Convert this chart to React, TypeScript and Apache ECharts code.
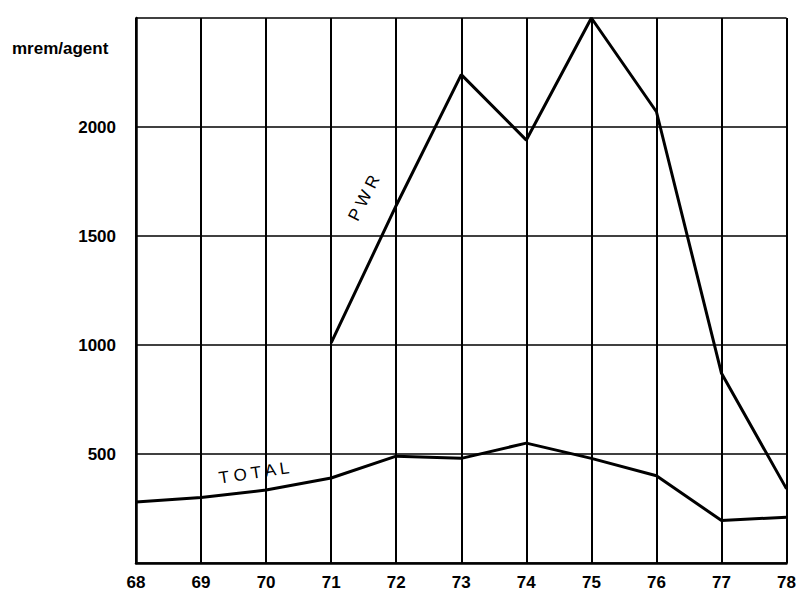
import React, { useEffect, useRef } from "react";
import * as echarts from "echarts";

const years = [68, 69, 70, 71, 72, 73, 74, 75, 76, 77, 78];
const totalValues = [280, 300, 335, 390, 490, 480, 550, 480, 400, 195, 210];
const pwrYears = [71, 72, 73, 74, 75, 76, 77, 78];
const pwrValues = [1010, 1640, 2240, 1940, 2500, 2070, 870, 340];
const yTickLabels = ["500", "1000", "1500", "2000"];

export default function App() {
  const ref = useRef<HTMLDivElement>(null);
  useEffect(() => {
    if (!ref.current) return;
    const chart = echarts.init(ref.current, undefined, { renderer: "svg" });
    const font = "Liberation Sans, Arial, sans-serif";
    chart.setOption({
      animation: false,
      backgroundColor: "#ffffff",
      grid: { left: 136, right: 9, top: 18, bottom: 37, show: false },
      xAxis: {
        type: "value",
        min: years[0],
        max: years[years.length - 1],
        interval: 1,
        axisLine: { show: true, onZero: false, lineStyle: { color: "#000", width: 2.5 } },
        axisTick: { show: false },
        splitLine: { show: true, lineStyle: { color: "#000", width: 2 } },
        axisLabel: {
          color: "#000",
          fontSize: 17,
          fontWeight: "bold",
          fontFamily: font,
          margin: 11,
          formatter: (v: number) => String(v),
        },
      },
      yAxis: {
        type: "value",
        min: 0,
        max: 2500,
        interval: 500,
        axisLine: { show: true, lineStyle: { color: "#000", width: 2.5 } },
        axisTick: { show: false },
        splitLine: { show: true, lineStyle: { color: "#000", width: 1.5 } },
        axisLabel: {
          color: "#000",
          fontSize: 17,
          fontWeight: "bold",
          fontFamily: font,
          margin: 20,
          formatter: (v: number) => (yTickLabels.includes(String(v)) ? String(v) : ""),
        },
      },
      graphic: [
        {
          type: "text",
          x: 12,
          y: 48,
          style: {
            text: "mrem/agent",
            fill: "#000",
            font: `bold 17px ${font}`,
            verticalAlign: "middle",
          },
        },
        {
          type: "text",
          x: 364,
          y: 198,
          rotation: 1.1,
          style: {
            text: "P W R",
            fill: "#000",
            font: `17px ${font}`,
            align: "center",
            verticalAlign: "middle",
          },
        },
        {
          type: "text",
          x: 254,
          y: 473,
          rotation: 0.15,
          style: {
            text: "T O T A L",
            fill: "#000",
            font: `17px ${font}`,
            align: "center",
            verticalAlign: "middle",
          },
        },
      ],
      series: [
        {
          name: "TOTAL",
          type: "line",
          data: years.map((y, i) => [y, totalValues[i]]),
          showSymbol: false,
          lineStyle: { color: "#000", width: 3 },
          clip: false,
        },
        {
          name: "PWR",
          type: "line",
          data: pwrYears.map((y, i) => [y, pwrValues[i]]),
          showSymbol: false,
          lineStyle: { color: "#000", width: 3 },
          clip: false,
        },
      ],
    });
    return () => chart.dispose();
  }, []);
  return (
    <div
      ref={ref}
      style={{ position: "fixed", left: 0, top: 0, width: 799, height: 600 }}
    />
  );
}
